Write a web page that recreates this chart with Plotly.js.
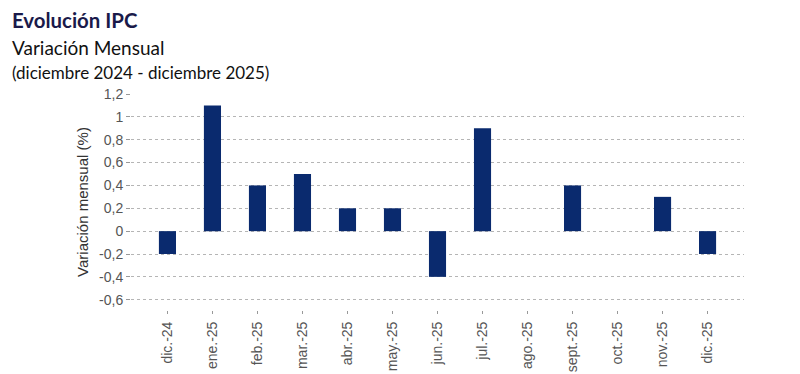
<!DOCTYPE html>
<html><head><meta charset="utf-8">
<script src="https://cdn.plot.ly/plotly-3.0.1.min.js"></script>
<style>body{margin:0;background:#fff}#c{width:800px;height:374px}</style>
</head><body><div id="c"></div>
<script>
const categories = ["dic.-24","ene.-25","feb.-25","mar.-25","abr.-25","may.-25","jun.-25","jul.-25","ago.-25","sept.-25","oct.-25","nov.-25","dic.-25"];
const values = [-0.2, 1.1, 0.4, 0.5, 0.2, 0.2, -0.4, 0.9, 0, 0.4, 0, 0.3, -0.2];
const yTickVals = [-0.6,-0.4,-0.2,0,0.2,0.4,0.6,0.8,1,1.2];
const yTickText = ["-0,6","-0,4","-0,2","0","0,2","0,4","0,6","0,8","1","1,2"];
const titleMain = "Evolución IPC";
const titleSub1 = "Variación Mensual";
const titleSub2 = "(diciembre 2024 - diciembre 2025)";
const yTitle = "Variación mensual (%)";

const narrow = "Liberation Sans Narrow, Arial Narrow, Liberation Sans, sans-serif";
const trace = {
  type: "bar", x: categories, y: values,
  marker: {color: "#0a2a6e", line: {width: 0}},
  width: 0.38, hoverinfo: "skip"
};
const tx = (10 - 131) / 613;
const titleFont = "Lato, DejaVu Sans, sans-serif";
const layout = {
  width: 800, height: 374,
  margin: {l: 131, r: 56, t: 94, b: 64},
  paper_bgcolor: "#fff", plot_bgcolor: "#fff",
  showlegend: false,
  xaxis: {
    type: "category", range: [-0.81, 12.81],
    showgrid: false, zeroline: false, showline: false,
    ticks: "outside", ticklen: 3, tickcolor: "#999", tickwidth: 1,
    tickangle: -90, ticklabelstandoff: 2,
    tickfont: {family: narrow, size: 14, color: "#555"}
  },
  yaxis: {
    range: [-0.69, 1.2],
    tickvals: yTickVals, ticktext: yTickText,
    showgrid: true, gridcolor: "#b5b5b5", griddash: "dot", gridwidth: 1,
    zeroline: false, showline: false,
    ticks: "outside", ticklen: 4, tickcolor: "#999",
    tickfont: {family: "Liberation Sans, Arial, sans-serif", size: 14, color: "#555"},
    title: {text: yTitle, standoff: 6, font: {family: narrow, size: 15, color: "#333"}}
  },
  annotations: [
    {text: "<b>" + titleMain + "</b>", xref: "paper", yref: "paper", x: tx, y: 1 + (94-20)/216,
     xanchor: "left", yanchor: "middle", showarrow: false,
     font: {family: titleFont, size: 20.4, color: "#1a1a4a"}},
    {text: titleSub1, xref: "paper", yref: "paper", x: tx, y: 1 + (94-47)/216,
     xanchor: "left", yanchor: "middle", showarrow: false,
     font: {family: titleFont, size: 19, color: "#111"}},
    {text: titleSub2, xref: "paper", yref: "paper", x: tx, y: 1 + (94-72)/216,
     xanchor: "left", yanchor: "middle", showarrow: false,
     font: {family: titleFont, size: 17, color: "#111"}}
  ]
};
Plotly.newPlot("c", [trace], layout, {displayModeBar: false, staticPlot: true});
</script></body></html>
